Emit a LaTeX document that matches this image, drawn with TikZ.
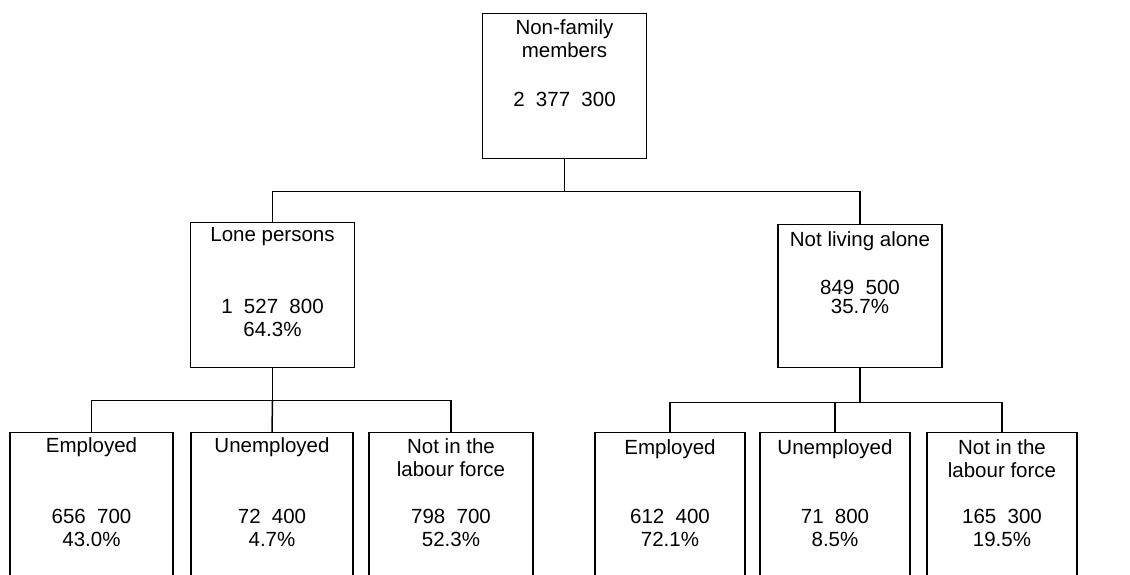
\documentclass[tikz,border=0pt]{standalone}
\usepackage{fontspec}
\setmainfont{Liberation Sans}
\usetikzlibrary{positioning}
\newcommand{\numgap}{\hspace{.55em}}

\tikzset{
    famlink/.style  = {line width = 1.5pt},
    fambox/.style   = {draw, line width = 1.4pt, anchor = north, inner sep = 0,
                       minimum width = 164pt, minimum height = 145pt},
    leafbox/.style  = {fambox, minimum height = 170pt},
    famtext/.style  = {font = \fontsize{20.5}{23}\selectfont, align = center, inner sep = 0}
}

\begin{document}
\begin{tikzpicture}[x = 1pt, y = -1pt]
    \useasboundingbox (0, 0) rectangle (1130, 574);
    \clip (0, 0) rectangle (1130, 574);

    %% boxes
    \node[fambox] (nonfam) at (564.5, 13) {};
    \node[fambox] (lone) at (272.5, 222) {};
    \node[fambox, minimum height = 143pt] (notalone) at (860, 224) {};

    \node[leafbox, minimum width = 163pt] (emp1) at (91.5, 432) {};
    \node[leafbox, minimum width = 162pt] (unemp1) at (272, 432) {};
    \node[leafbox] (nilf1) at (451, 432) {};

    \node[leafbox, minimum width = 150pt] (emp2) at (670, 432) {};
    \node[leafbox, minimum width = 150pt] (unemp2) at (835, 432) {};
    \node[leafbox, minimum width = 150pt] (nilf2) at (1002, 432) {};

    %% texts
    \node[famtext, below = 6pt of nonfam.north] (nonfamt) {Non-family\\members};
    \node[famtext, below = 79pt of nonfam.north] (nonfamn) {2\numgap 377\numgap 300};

    \node[famtext, below = 5pt of lone.north] (lonet) {Lone persons};
    \node[famtext, below = 77pt of lone.north] (lonen) {1\numgap 527\numgap 800\\64.3\%};

    \node[famtext, below = 7pt of notalone.north] (notalonet) {Not living alone};
    \node[famtext, below = 56pt of notalone.north] (notalonen) {849\numgap 500\\[-4pt]35.7\%};

    \node[famtext, below = 5pt of emp1.north] (emp1t) {Employed};
    \node[famtext, below = 77pt of emp1.north] (emp1n) {656\numgap 700\\43.0\%};
    \node[famtext, below = 5pt of unemp1.north] (unemp1t) {Unemployed};
    \node[famtext, below = 77pt of unemp1.north] (unemp1n) {72\numgap 400\\4.7\%};
    \node[famtext, below = 6pt of nilf1.north] (nilf1t) {Not in the\\labour force};
    \node[famtext, below = 77pt of nilf1.north] (nilf1n) {798\numgap 700\\52.3\%};

    \node[famtext, below = 7pt of emp2.north] (emp2t) {Employed};
    \node[famtext, below = 77pt of emp2.north] (emp2n) {612\numgap 400\\72.1\%};
    \node[famtext, below = 7pt of unemp2.north] (unemp2t) {Unemployed};
    \node[famtext, below = 77pt of unemp2.north] (unemp2n) {71\numgap 800\\8.5\%};
    \node[famtext, below = 7pt of nilf2.north] (nilf2t) {Not in the\\labour force};
    \node[famtext, below = 77pt of nilf2.north] (nilf2n) {165\numgap 300\\19.5\%};

    %% links
    \draw[famlink] (nonfam.south) -- ++(0, 32) coordinate (topbus);
    \draw[famlink] (lone.north) |- (topbus) -| (notalone.north);

    \draw[famlink] (lone.south) -- ++(0, 32) coordinate (lbus);
    \draw[famlink] (emp1.north) |- (lbus) -| (nilf1.north);
    \draw[famlink] (lbus) -- (unemp1.north);

    \draw[famlink] (notalone.south) -- ++(0, 34) coordinate (rbus);
    \draw[famlink] (emp2.north) |- (rbus) -| (nilf2.north);
    \draw[famlink] (unemp2.north) |- (rbus);
\end{tikzpicture}
\end{document}
